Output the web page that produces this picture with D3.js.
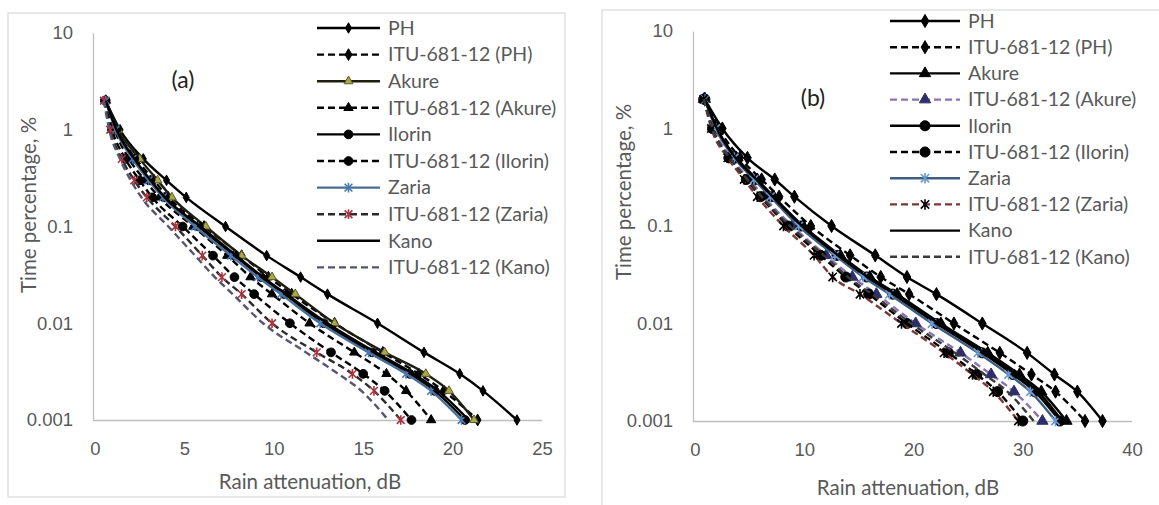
<!DOCTYPE html>
<html>
<head>
<meta charset="utf-8">
<script src="https://cdn.jsdelivr.net/npm/d3@7"></script>
<style>
  body { margin: 0; background: #fff; }
  svg { display: block; font-family: Lato, "Open Sans", sans-serif; }
  .tick text { fill: #595959; font-size: 18.5px; }
  .legend text { fill: #595959; font-size: 19.5px; }
  .axis-title { fill: #595959; font-size: 20.5px; }
</style>
</head>
<body>
<svg id="chart" width="1159" height="505"></svg>
<script>
// Time percentages shared by every curve
const timePct = [2, 1, 0.5, 0.3, 0.2, 0.1, 0.05, 0.03, 0.02, 0.01, 0.005, 0.003, 0.002, 0.001];

const yTicks = [0.001, 0.01, 0.1, 1, 10];
const yTickLabels = ["0.001", "0.01", "0.1", "1", "10"];
const xTicksA = [0, 5, 10, 15, 20, 25];
const xTicksB = [0, 10, 20, 30, 40];

const seriesNames = ["PH", "ITU-681-12 (PH)", "Akure", "ITU-681-12 (Akure)", "Ilorin",
  "ITU-681-12 (Ilorin)", "Zaria", "ITU-681-12 (Zaria)", "Kano", "ITU-681-12 (Kano)"];

// Panel (a): rain attenuation, dB
const phA        = [0.6, 1.4, 2.7, 4.0, 5.1, 7.3, 9.6, 11.5, 13.0, 15.8, 18.4, 20.4, 21.7, 23.6];
const ituPhA     = [0.6, 1.2, 2.3, 3.3, 4.1, 6.1, 8.2, 9.7, 11.0, 13.4, 16.1, 18.1, 19.5, 21.4];
const akureA     = [0.6, 1.3, 2.5, 3.5, 4.3, 6.2, 8.2, 9.9, 11.2, 13.4, 16.2, 18.5, 19.8, 21.2];
const ituAkureA  = [0.6, 1.1, 1.9, 2.8, 3.6, 5.5, 7.4, 8.7, 9.9, 12.0, 14.5, 16.3, 17.4, 18.8];
const ilorinA    = [0.6, 1.2, 2.2, 3.1, 3.9, 5.8, 7.8, 9.3, 10.6, 12.8, 15.5, 17.6, 19.0, 20.7];
const ituIlorinA = [0.55, 0.95, 1.7, 2.5, 3.2, 4.9, 6.6, 7.8, 8.9, 10.9, 13.2, 15.0, 16.2, 17.7];
const zariaA     = [0.6, 1.15, 2.1, 3.0, 3.8, 5.6, 7.6, 9.1, 10.4, 12.6, 15.3, 17.4, 18.8, 20.5];
const ituZariaA  = [0.5, 0.85, 1.5, 2.2, 2.9, 4.5, 6.0, 7.1, 8.2, 9.9, 12.4, 14.4, 15.6, 17.1];
const kanoA      = [0.6, 1.2, 2.2, 3.1, 3.9, 5.9, 7.9, 9.4, 10.7, 13.0, 15.7, 17.8, 19.2, 20.9];
const ituKanoA   = [0.5, 0.8, 1.4, 2.0, 2.6, 4.1, 5.6, 6.7, 7.7, 9.4, 11.8, 13.6, 14.9, 16.4];

// Panel (b): rain attenuation, dB
const phB        = [0.9, 2.5, 4.8, 7.3, 9.1, 12.5, 16.5, 19.4, 22.1, 26.3, 30.4, 32.9, 35.0, 37.3];
const ituPhB     = [0.9, 2.2, 4.1, 6.1, 7.7, 10.6, 14.2, 17.0, 19.6, 23.7, 27.9, 30.8, 33.0, 35.7];
const akureB     = [0.9, 2.0, 3.8, 5.7, 7.2, 9.9, 13.3, 16.0, 18.5, 22.5, 26.8, 29.7, 31.7, 34.0];
const ituAkureB  = [0.8, 1.7, 3.3, 5.0, 6.3, 8.9, 12.0, 14.4, 16.6, 20.2, 24.3, 27.1, 29.2, 31.8];
const ilorinB    = [0.9, 2.0, 3.7, 5.5, 7.0, 9.7, 13.0, 15.7, 18.1, 22.1, 26.3, 29.1, 31.1, 33.4];
const ituIlorinB = [0.8, 1.6, 3.1, 4.7, 6.0, 8.5, 11.5, 13.8, 15.9, 19.4, 23.2, 25.8, 27.7, 30.0];
const zariaB     = [0.9, 1.9, 3.6, 5.4, 6.9, 9.5, 12.8, 15.4, 17.8, 21.7, 25.9, 28.7, 30.7, 33.0];
const ituZariaB  = [0.8, 1.5, 3.0, 4.5, 5.7, 8.1, 10.9, 12.6, 15.1, 18.9, 22.8, 25.4, 27.3, 29.6];
const kanoB      = [0.9, 2.0, 3.7, 5.6, 7.1, 9.8, 13.1, 15.8, 18.3, 22.3, 26.5, 29.4, 31.4, 33.6];
const ituKanoB   = [0.8, 1.6, 3.2, 4.8, 6.1, 8.7, 11.8, 14.0, 16.2, 19.8, 23.8, 26.5, 28.6, 31.0];

// Excel style "star" marker: an x with a vertical bar
const symbolStar = {
  draw(ctx, size) {
    const r = Math.sqrt(size) * 0.5;
    ctx.moveTo(-r, -r); ctx.lineTo(r, r);
    ctx.moveTo(-r, r); ctx.lineTo(r, -r);
    ctx.moveTo(0, -r * 1.25); ctx.lineTo(0, r * 1.25);
  }
};

const DASH = "7,4";

// Styles per series for each panel
const stylesA = [
  { values: phA, color: "#000", dash: null, marker: d3.symbolDiamond, fill: "#000", mstroke: "#000", msize: 32 },
  { values: ituPhA, color: "#000", dash: DASH, marker: d3.symbolDiamond, fill: "#000", mstroke: "#000", msize: 40 },
  { values: akureA, color: "#1e1e10", dash: null, marker: d3.symbolTriangle, fill: "#a8a84a", mstroke: "#5a5a22", msize: 34 },
  { values: ituAkureA, color: "#000", dash: DASH, marker: d3.symbolTriangle, fill: "#000", mstroke: "#000", msize: 38 },
  { values: ilorinA, color: "#000", dash: null, marker: d3.symbolCircle, fill: "#000", mstroke: "#000", msize: 60 },
  { values: ituIlorinA, color: "#000", dash: DASH, marker: d3.symbolCircle, fill: "#000", mstroke: "#000", msize: 60 },
  { values: zariaA, color: "#4a6d96", dash: null, marker: symbolStar, fill: "none", mstroke: "#4a78b0", msize: 60 },
  { values: ituZariaA, color: "#2a2a2a", dash: DASH, marker: symbolStar, fill: "none", mstroke: "#a8343e", msize: 60 },
  { values: kanoA, color: "#000", dash: null, marker: null },
  { values: ituKanoA, color: "#55556e", dash: DASH, marker: null }
];

const stylesB = [
  { values: phB, color: "#000", dash: null, marker: d3.symbolDiamond, fill: "#000", mstroke: "#000", msize: 50 },
  { values: ituPhB, color: "#000", dash: DASH, marker: d3.symbolDiamond, fill: "#000", mstroke: "#000", msize: 50 },
  { values: akureB, color: "#000", dash: null, marker: d3.symbolTriangle, fill: "#000", mstroke: "#000", msize: 55 },
  { values: ituAkureB, color: "#8a74b0", dash: DASH, marker: d3.symbolTriangle, fill: "#2e2e6a", mstroke: "#2e2e6a", msize: 55 },
  { values: ilorinB, color: "#000", dash: null, marker: d3.symbolCircle, fill: "#000", mstroke: "#000", msize: 80 },
  { values: ituIlorinB, color: "#000", dash: DASH, marker: d3.symbolCircle, fill: "#000", mstroke: "#000", msize: 80 },
  { values: zariaB, color: "#3e5d80", dash: null, marker: symbolStar, fill: "none", mstroke: "#6a9ad0", msize: 70 },
  { values: ituZariaB, color: "#7a3838", dash: DASH, marker: symbolStar, fill: "none", mstroke: "#000", msize: 70 },
  { values: kanoB, color: "#000", dash: null, marker: null },
  { values: ituKanoB, color: "#3a3a3a", dash: DASH, marker: null }
];

const panels = [
  {
    label: "(a)", labelX: 183, labelY: 80,
    frame: { x: 8, y: 13, w: 557, h: 484 },
    xRange: [95, 542], xMax: 25, xTicks: xTicksA,
    yRange: [420, 33],
    yTitleX: 29, yTitleY: 205, xTitleX: 310, xTitleY: 482,
    legX: 317, legY: 28, legStep: 26.6, legLen: 63,
    styles: stylesA
  },
  {
    label: "(b)", labelX: 813, labelY: 98,
    frame: { x: 602, y: 10, w: 600, h: 520 },
    xRange: [695, 1132], xMax: 40, xTicks: xTicksB,
    yRange: [421, 31],
    yTitleX: 624, yTitleY: 192, xTitleX: 908, xTitleY: 488,
    legX: 890, legY: 21, legStep: 26.2, legLen: 70,
    styles: stylesB
  }
];

const svg = d3.select("#chart");

panels.forEach(p => {
  const g = svg.append("g");

  // chart frame
  g.append("rect")
    .attr("x", p.frame.x).attr("y", p.frame.y)
    .attr("width", p.frame.w).attr("height", p.frame.h)
    .attr("fill", "none").attr("stroke", "#d9d9d9").attr("stroke-width", 1.2);

  const x = d3.scaleLinear().domain([0, p.xMax]).range(p.xRange);
  const y = d3.scaleLog().domain([0.001, 10]).range(p.yRange);

  // axes
  const xAxis = g.append("g")
    .attr("transform", `translate(0,${p.yRange[0]})`)
    .call(d3.axisBottom(x).tickValues(p.xTicks).tickSize(0).tickPadding(22));
  const yAxis = g.append("g")
    .attr("transform", `translate(${p.xRange[0] - 2},0)`)
    .call(d3.axisLeft(y).tickValues(yTicks).tickFormat((d, i) => yTickLabels[i]).tickSize(0).tickPadding(20));
  [xAxis, yAxis].forEach(a => {
    a.select(".domain").attr("stroke", "#bfbfbf").attr("stroke-width", 1.3);
    a.selectAll("text").attr("font-family", null).attr("font-size", null);
  });
  xAxis.select(".domain").attr("d", `M${p.xRange[0] - 2},0.5H${p.xRange[1]}`);

  // axis titles
  g.append("text")
    .attr("class", "axis-title")
    .attr("transform", `translate(${p.yTitleX},${p.yTitleY}) rotate(-90)`)
    .attr("text-anchor", "middle").attr("dy", "0.35em")
    .text("Time percentage, %");
  g.append("text")
    .attr("class", "axis-title")
    .attr("x", p.xTitleX).attr("y", p.xTitleY)
    .attr("text-anchor", "middle").attr("dy", "0.35em")
    .text("Rain attenuation, dB");

  // panel label
  g.append("text")
    .attr("x", p.labelX).attr("y", p.labelY)
    .attr("text-anchor", "middle").attr("dy", "0.35em")
    .attr("font-size", 23).attr("fill", "#222")
    .text(p.label);

  // smoothed lines, like Excel's smoothed scatter
  const line = d3.line()
    .curve(d3.curveMonotoneX)
    .x(d => x(d[0]))
    .y(d => y(d[1]));

  p.styles.forEach(s => {
    const pts = s.values.map((v, i) => [v, timePct[i]]);
    g.append("path")
      .datum(pts)
      .attr("d", line)
      .attr("fill", "none")
      .attr("stroke", s.color)
      .attr("stroke-width", 2.4)
      .attr("stroke-dasharray", s.dash);

    if (s.marker) {
      g.selectAll(null)
        .data(pts)
        .enter()
        .append("path")
        .attr("transform", d => `translate(${x(d[0])},${y(d[1])})`)
        .attr("d", d3.symbol().type(s.marker).size(s.msize))
        .attr("fill", s.fill)
        .attr("stroke", s.mstroke)
        .attr("stroke-width", s.fill === "none" ? 1.6 : 1);
    }
  });

  // legend
  const leg = g.append("g").attr("class", "legend");
  p.styles.forEach((s, i) => {
    const ly = p.legY + i * p.legStep;
    leg.append("line")
      .attr("x1", p.legX).attr("x2", p.legX + p.legLen)
      .attr("y1", ly).attr("y2", ly)
      .attr("stroke", s.color).attr("stroke-width", 2.4)
      .attr("stroke-dasharray", s.dash);
    if (s.marker) {
      leg.append("path")
        .attr("transform", `translate(${p.legX + p.legLen / 2},${ly})`)
        .attr("d", d3.symbol().type(s.marker).size(s.msize))
        .attr("fill", s.fill)
        .attr("stroke", s.mstroke)
        .attr("stroke-width", s.fill === "none" ? 1.6 : 1);
    }
    leg.append("text")
      .attr("x", p.legX + p.legLen + 8).attr("y", ly)
      .attr("dy", "0.35em")
      .text(seriesNames[i]);
  });
});
</script>
</body>
</html>
